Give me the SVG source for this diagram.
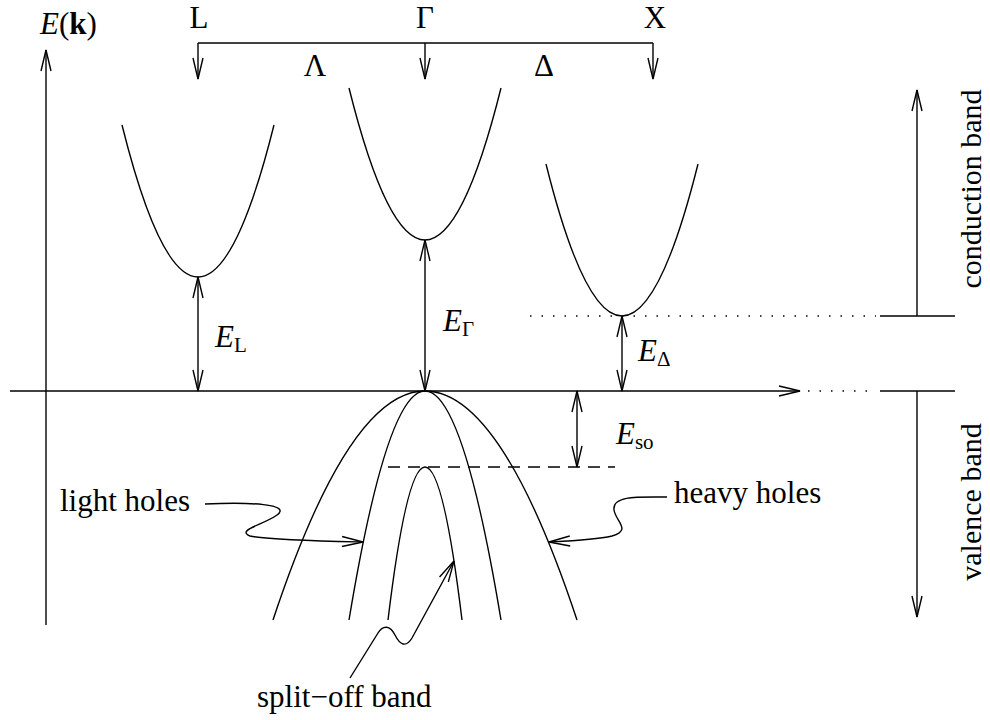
<svg xmlns="http://www.w3.org/2000/svg" width="990" height="720" viewBox="0 0 990 720">
<defs>
<style>
.ln{fill:none;stroke:#000;stroke-width:1.4}
.dot{fill:none;stroke:#000;stroke-width:1.4;stroke-dasharray:1.5 10}
.dash{fill:none;stroke:#000;stroke-width:1.4;stroke-dasharray:12 8}
.arr{marker-end:url(#ah)}
.darr{marker-start:url(#ah);marker-end:url(#ah)}
text{font-family:"Liberation Serif","Times New Roman",serif;font-size:31px;fill:#000}
.it{font-style:italic}
.sub{font-size:21px}
.rot{font-size:30px}
</style>
<marker id="ah" viewBox="-23 -7 25 14" markerWidth="25" markerHeight="14" refX="0" refY="0" markerUnits="userSpaceOnUse" orient="auto-start-reverse">
<path d="M-21,-5 L0,0 L-21,5" fill="none" stroke="#000" stroke-width="1.4"/>
</marker>
</defs>
<rect width="990" height="720" fill="#fff"/>

<g id="axes">
<path class="ln arr" d="M46,625 V50"/>
<path class="ln arr" d="M10,391 H800"/>
<path class="dot" d="M808,391 H876"/>
<text x="40" y="34" font-size="33"><tspan class="it">E</tspan>(<tspan font-weight="bold">k</tspan>)</text>
</g>

<g id="k-bracket">
<path class="ln" d="M198,43 H653"/>
<path class="ln arr" d="M198,43 V79"/>
<path class="ln arr" d="M425,43 V79"/>
<path class="ln arr" d="M653,43 V79"/>
<text x="199" y="28" text-anchor="middle">L</text>
<text x="425" y="28" text-anchor="middle">Γ</text>
<text x="655" y="28" text-anchor="middle">X</text>
<text x="315" y="76" text-anchor="middle">Λ</text>
<text x="544" y="76" text-anchor="middle">Δ</text>
</g>

<g id="valley-L">
<path class="ln" d="M122,125 Q198,429 274,125"/>
</g>
<g id="valley-Gamma">
<path class="ln" d="M349,88 Q425,392 501,88"/>
</g>
<g id="valley-X">
<path class="ln" d="M546,164 Q622,468 698,164"/>
</g>

<g id="heavy-holes-band">
<path class="ln" d="M273,620 Q425,162 577,620"/>
</g>
<g id="light-holes-band">
<path class="ln" d="M349,620 Q425,162 501,620"/>
</g>
<g id="split-off-band">
<path class="ln" d="M388,620 Q425,314 462,620"/>
</g>

<g id="levels">
<path class="dot" d="M530,316 H876"/>
<path class="dash" d="M388,467 H615"/>
</g>

<g id="gap-EL">
<path class="ln darr" d="M198,277 V391"/>
<text x="215" y="347"><tspan class="it">E</tspan><tspan class="sub" dy="5">L</tspan></text>
</g>
<g id="gap-EGamma">
<path class="ln darr" d="M425,240 V391"/>
<text x="443" y="331"><tspan class="it">E</tspan><tspan class="sub" dy="5">Γ</tspan></text>
</g>
<g id="gap-EDelta">
<path class="ln darr" d="M622,316 V391"/>
<text x="638" y="361"><tspan class="it">E</tspan><tspan class="sub" dy="5">Δ</tspan></text>
</g>
<g id="gap-Eso">
<path class="ln darr" d="M577,391 V467"/>
<text x="616" y="444"><tspan class="it">E</tspan><tspan class="sub" dy="5">so</tspan></text>
</g>

<g id="conduction-band">
<path class="ln" d="M880,316 H955"/>
<path class="ln arr" d="M917,316 V90"/>
<text class="rot" transform="translate(981,189) rotate(-90)" text-anchor="middle">conduction band</text>
</g>
<g id="valence-band">
<path class="ln" d="M880,391 H955"/>
<path class="ln arr" d="M917,391 V617"/>
<text class="rot" transform="translate(981,502) rotate(-90)" text-anchor="middle">valence band</text>
</g>

<g id="connectors">
<path class="ln arr" d="M205,504 C250,502 292,504 277,515 C263,525 236,530 250,536 C270,540 320,541 363,542"/>
<path class="ln arr" d="M667,497 C640,497 612,495 614,510 C616,522 632,530 612,536 C595,540 570,541 549,542"/>
<path class="ln arr" d="M350,678 L378,633 C383,625 390,625 395,635 C400,645 406,648 412,638 L454,561"/>
</g>

<g id="label-light-holes"><text x="60" y="511">light holes</text></g>
<g id="label-heavy-holes"><text x="674" y="503">heavy holes</text></g>
<g id="label-split-off"><text x="257" y="707">split−off band</text></g>
</svg>
